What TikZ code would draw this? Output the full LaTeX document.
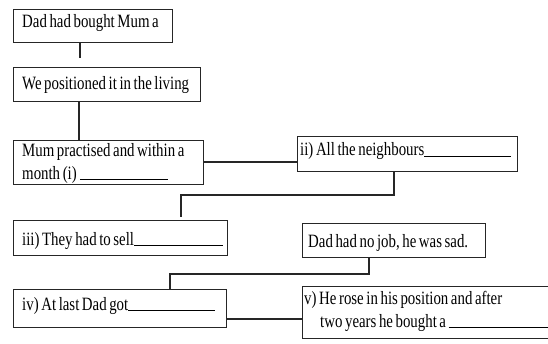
\documentclass[tikz,border=0pt]{standalone}
\usepackage{fontspec}
\setmainfont{Liberation Serif}[FakeStretch=0.79,WordSpace=0.7]
\begin{document}
\begin{tikzpicture}[x=1pt,y=1pt,
  box/.style={draw=black!85,line width=1.1pt,rectangle,inner sep=0pt,anchor=north west},
  txt/.style={anchor=base west,inner sep=0pt,font=\fontsize{18.8}{21}\selectfont,text=black},
  conn/.style={draw=black!85,line width=1.1pt}]
\useasboundingbox (0,0) rectangle (548,343);
\clip (0,0) rectangle (548,343);
\newcommand{\blank}[1]{\rule[-0.6pt]{#1}{0.9pt}}
% boxes
\node[box,minimum width=159pt,minimum height=33pt] (b1) at (13,334) {};
\node[box,minimum width=187pt,minimum height=34pt] (b2) at (13,276) {};
\node[box,minimum width=190pt,minimum height=44pt] (b3) at (13,203) {};
\node[box,minimum width=220pt,minimum height=35pt] (b4) at (297,207) {};
\node[box,minimum width=214pt,minimum height=35pt] (b5) at (13,123) {};
\node[box,minimum width=183pt,minimum height=34pt] (b6) at (302,120) {};
\node[box,minimum width=213pt,minimum height=38pt] (b7) at (13,54) {};
\node[box,minimum width=262pt,minimum height=52pt] (b8) at (302,57) {};
% texts
\node[txt] (t1) at (22,315) {Dad had bought Mum a};
\node[txt] (t2) at (22,253) {We positioned it in the living};
\node[txt] (t3a) at (22,186) {Mum practised and within a};
\node[txt] (t3b) at (22,164) {month (i)\,\blank{88pt}};
\node[txt] (t4) at (300,187) {ii) All the neighbours\blank{87pt}};
\node[txt] (t5) at (22,98) {iii) They had to sell\blank{89pt}};
\node[txt] (t6) at (308,96) {Dad had no job, he was sad.};
\node[txt] (t7) at (22,33) {iv) At last Dad got\blank{87pt}};
\node[txt] (t8a) at (304,39) {v) He rose in his position and after};
\node[txt] (t8b) at (320,16) {two years he bought a \blank{100pt}};
% connectors
\coordinate (c1) at (80,285);
\draw[conn] (b1.south -| c1) -- (c1);
\draw[conn] (b2.south -| 79,0) -- (b3.north -| 79,0);
\draw[conn] (b3.east |- 0,181) -- (b4.west |- 0,181);
\coordinate (c2) at (181,126);
\draw[conn] (b4.south -| 394,0) |- (c2 |- 0,148) -- (c2);
\draw[conn] (b6.south -| 369,0) |- (170,69) -- (b7.north -| 170,0);
\draw[conn] (b7.east |- 0,24) -- (b8.west |- 0,24);
\end{tikzpicture}
\end{document}
